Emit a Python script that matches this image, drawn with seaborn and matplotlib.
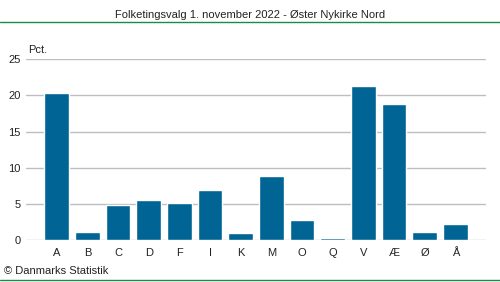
import matplotlib
matplotlib.use("Agg")
import matplotlib.pyplot as plt
import seaborn as sns
import pandas as pd

parties = ["A", "B", "C", "D", "F", "I", "K", "M", "O", "Q", "V", "Æ", "Ø", "Å"]
values = [20.4, 1.1, 4.9, 5.5, 5.1, 6.9, 0.9, 8.9, 2.8, 0.3, 21.3, 18.8, 1.1, 2.2]
yticks = [0, 5, 10, 15, 20, 25]
title = "Folketingsvalg 1. november 2022 - Øster Nykirke Nord"

sns.set_style("white")
plt.rcParams['font.family'] = ['Liberation Sans', 'DejaVu Sans']

df = pd.DataFrame({"parti": parties, "pct": values})

fig = plt.figure(figsize=(5, 2.82), dpi=100)
ax = fig.add_axes([26/500, 1 - 240/282, 460/500, (240 - 59.3)/282])
sns.barplot(data=df, x="parti", y="pct", color="#006495", saturation=1, width=0.81, ax=ax, zorder=3)
ax.set_xlim(-1, 14)
ax.set_ylim(0, 25)
ax.set_yticks(yticks)
ax.set_xlabel("")
ax.set_ylabel("")
for s in ax.spines.values():
    s.set_visible(False)
ax.grid(axis="y", color="#bdbdc6", linewidth=1, zorder=0)
ax.grid(axis="x", visible=False)
ax.tick_params(axis="both", length=0, labelsize=8, colors="#222222")
ax.tick_params(axis="y", pad=4)
ax.tick_params(axis="x", pad=6)

fig.text(0.5, 1 - 15/282, title, ha="center", va="center", fontsize=8, color="#222222")
fig.add_artist(plt.Line2D([0, 1], [1 - 22/282, 1 - 22/282], color="#1a8a4a", linewidth=1))
fig.add_artist(plt.Line2D([0, 1], [1 - 280/282, 1 - 280/282], color="#1a8a4a", linewidth=1))
fig.text(28/500, 1 - 50/282, "Pct.", ha="left", va="center", fontsize=8, color="#222222")
fig.text(4/500, 1 - 271/282, "© Danmarks Statistik", ha="left", va="center", fontsize=8, color="#222222")

fig.savefig("out.png", dpi=100)
